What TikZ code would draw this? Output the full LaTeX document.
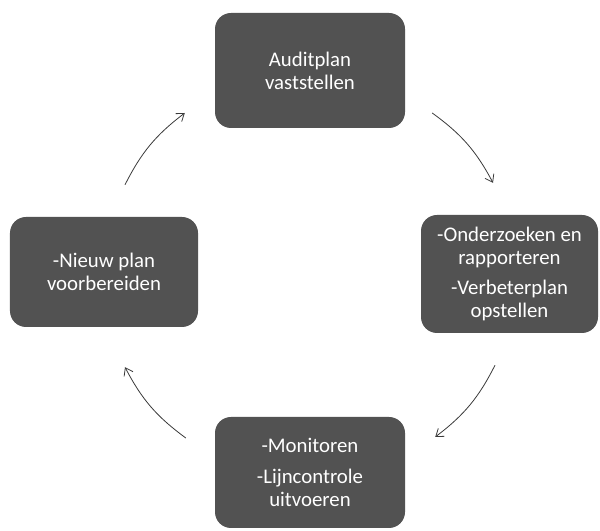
\documentclass[tikz,border=0pt]{standalone}
\usepackage{fontspec}
\setmainfont{Carlito}
\usetikzlibrary{arrows.meta}
\tikzset{
  x=1bp,y=1bp,
  stagebox/.style={draw=none, fill=boxgray, rounded corners=16bp, text=white,
    align=center, inner sep=2bp, font=\fontsize{20.8bp}{23bp}\selectfont},
  cyclearrow/.style={draw=arrowgray, line width=0.8bp, bend left=13,
    -{Straight Barb[length=7bp,width=10bp,line width=0.8bp]}}
}
\definecolor{boxgray}{HTML}{525252}
\definecolor{arrowgray}{HTML}{3A3A3A}
\begin{document}
\begin{tikzpicture}
\useasboundingbox (0,0) rectangle (600,531);
\node[stagebox, minimum width=190bp, minimum height=115bp] (T) at (310,460.5)
  {Auditplan\\vaststellen};
\node[stagebox, minimum width=177bp, minimum height=118bp] (R) at (509.5,257)
  {-Onderzoeken en\\rapporteren\\[7bp]-Verbeterplan\\opstellen};
\node[stagebox, minimum width=190bp, minimum height=111bp] (B) at (310,58.5)
  {-Monitoren\\[8bp]-Lijncontrole\\uitvoeren};
\node[stagebox, minimum width=188bp, minimum height=110bp] (L) at (104,259)
  {-Nieuw plan\\voorbereiden};
\draw[cyclearrow] ([shift={(21,32)}]L.north) to ([shift={(-30,-42.5)}]T.west);
\draw[cyclearrow] ([shift={(27,-42.5)}]T.east) to ([shift={(-16.5,32)}]R.north);
\draw[cyclearrow] ([shift={(-14.5,-32)}]R.south) to ([shift={(30,35.5)}]B.east);
\draw[cyclearrow] ([shift={(-29,34.5)}]B.west) to ([shift={(21,-40)}]L.south);
\end{tikzpicture}
\end{document}
